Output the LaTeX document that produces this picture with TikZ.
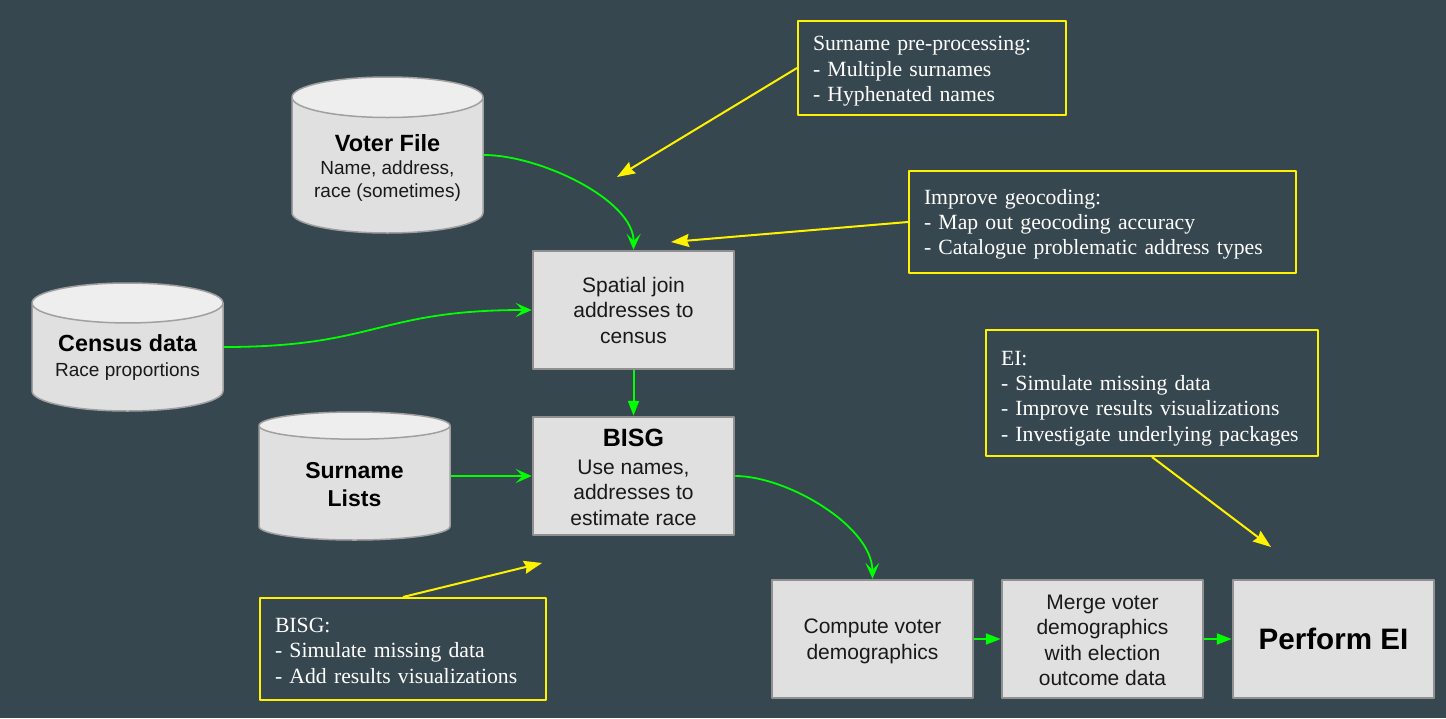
\documentclass[tikz,border=0pt]{standalone}
\usepackage{fontspec}
\setmainfont{Liberation Serif}
\setsansfont{Liberation Sans}
\usetikzlibrary{arrows.meta,shapes.geometric}
\definecolor{slate}{HTML}{37474F}
\definecolor{boxgray}{HTML}{E0E0E0}
\definecolor{boxline}{HTML}{909090}
\definecolor{cylline}{HTML}{A0A0A0}
\definecolor{lidgray}{HTML}{EEEEEE}
\newcommand{\headtext}[2]{{\bfseries\color{black}\fontsize{#1}{25}\selectfont #2}}
\newcommand{\dropline}[1]{\rule{0pt}{#1pt}}
\tikzset{
	stepbox/.style={draw=boxline, line width=2pt, fill=boxgray, minimum width=201.5pt, minimum height=118.5pt, inner sep=0pt, align=center, text=black!90, font=\sffamily\fontsize{21}{25.5}\selectfont},
	datacyl/.style={shape=cylinder, shape border rotate=90, aspect=0.276, draw=cylline, line width=1.5pt, cylinder uses custom fill, cylinder end fill=lidgray, cylinder body fill=boxgray, minimum width=191pt, inner sep=0pt, align=center, text=black!90, font=\sffamily\fontsize{19}{23}\selectfont},
	notebox/.style={draw=yellow, line width=2pt, inner xsep=15pt, inner ysep=0pt, align=left, text=white, anchor=north west, font=\fontsize{21.7}{25.3}\selectfont},
	flow/.style={draw=green, line width=2pt, -{Stealth[length=15pt,width=11pt,inset=0pt]}},
	flowcurve/.style={draw=green, line width=1.8pt, -{Stealth[length=16pt,width=14pt,inset=7pt]}},
	hint/.style={draw=yellow, line width=2pt, -{Stealth[length=18pt,width=13pt,inset=2pt]}},
	big/.style={text=black, font=\sffamily\bfseries\fontsize{#1}{28}\selectfont}
}
\begin{document}
\begin{tikzpicture}[x=1pt, y=-1pt, line join=round]
	\fill[slate] (0,0) rectangle (1446,718);
	\node[datacyl, anchor=shape center, minimum height=156pt] (voter) at (387.5,155) {\dropline{22}\headtext{23.5}{Voter File}\\Name, address,\\race (sometimes)};
	\node[datacyl, anchor=shape center, minimum height=128pt] (census) at (127.5,347) {\headtext{23.3}{Census data}\\[2pt]Race proportions};
	\node[datacyl, anchor=shape center, minimum height=128pt, big=23] (surname) at (354.5,476) {\dropline{19}Surname\\Lists};
	\node[stepbox] (spatial) at (633.5,310) {Spatial join\\addresses to\\census};
	\node[stepbox] (bisg) at (633.5,476) {\dropline{20}\headtext{25}{BISG}\\[2pt]Use names,\\addresses to\\estimate race};
	\node[stepbox] (compute) at (872.5,639) {\dropline{19}Compute voter\\demographics};
	\node[stepbox] (merge) at (1102.5,639) {\dropline{17}Merge voter\\demographics\\with election\\outcome data};
	\node[stepbox, big=29.6] (perform) at (1333.5,639) {Perform EI};
	\node[notebox, text width=238pt, minimum height=94pt] (notesurname) at (797,20) {\dropline{21}Surname pre-processing:\\- Multiple surnames\\- Hyphenated names};
	\node[notebox, text width=357pt, minimum height=102pt] (notegeo) at (908,170) {\dropline{20}Improve geocoding:\\- Map out geocoding accuracy\\- Catalogue problematic address types};
	\node[notebox, text width=302pt, minimum height=126pt] (noteei) at (985,329) {\dropline{25}EI:\\- Simulate missing data\\- Improve results visualizations\\- Investigate underlying packages};
	\node[notebox, text width=256pt, minimum height=102pt] (notebisg) at (259,597) {\dropline{18}BISG:\\- Simulate missing data\\- Add results visualizations};
	\coordinate (tipsurname) at (617,177);
	\coordinate (tipgeo) at (671,242);
	\coordinate (tipei) at (1271,547);
	\coordinate (tipbisg) at (542,563);
	\draw[flowcurve] (voter.shape center -| voter.east) .. controls (540,155) and (634,200) .. (spatial.north);
	\draw[flowcurve] (census.shape center -| census.east) .. controls (377,347) and (377,310) .. (spatial.west);
	\draw[flow] (spatial.south) -- (bisg.north);
	\draw[flowcurve] (surname.shape center -| surname.east) -- (bisg.west);
	\draw[flowcurve] (bisg.east) .. controls (787,476) and (872,526) .. (compute.north);
	\draw[flow] (compute.east) -- (merge.west);
	\draw[flow] (merge.east) -- (perform.west);
	\draw[hint] (notesurname.west) -- (tipsurname);
	\draw[hint] (notegeo.west) -- (tipgeo);
	\draw[hint] (noteei.south) -- (tipei);
	\draw[hint] (notebisg.north) -- (tipbisg);
\end{tikzpicture}
\end{document}
